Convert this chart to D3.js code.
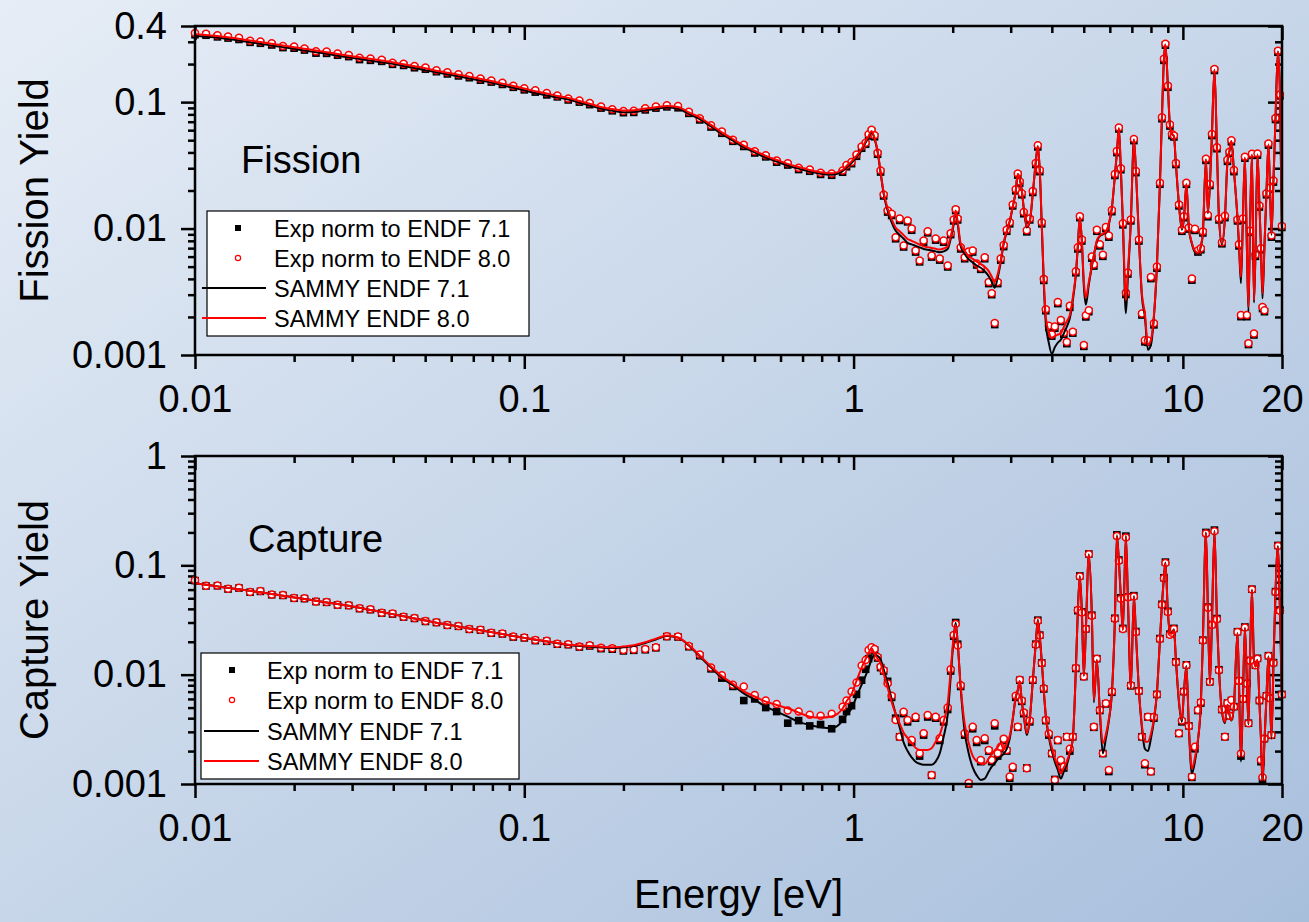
<!DOCTYPE html>
<html>
<head>
<meta charset="utf-8">
<script src="https://cdn.jsdelivr.net/npm/d3@7"></script>
<style>
  body { margin: 0; }
  svg text { font-family: "Liberation Sans", Arial, sans-serif; fill: #000; }
</style>
</head>
<body>
<div id="chart"></div>
<script>
// Neutron energies (eV) of the measured points, shared by both panels
var energy = [
  0.0100, 0.0108, 0.0117, 0.0126, 0.0136, 0.0147, 0.0158, 0.0171, 0.0185, 0.0200,
  0.0215, 0.0233, 0.0251, 0.0271, 0.0293, 0.0316, 0.0341, 0.0369, 0.0398, 0.0430,
  0.0464, 0.0501, 0.0541, 0.0584, 0.0631, 0.0681, 0.0736, 0.0794, 0.0858, 0.0926,
  0.100, 0.108, 0.117, 0.126, 0.136, 0.147, 0.158, 0.171, 0.185, 0.200,
  0.215, 0.233, 0.251, 0.271, 0.293, 0.316, 0.341, 0.369, 0.398, 0.430,
  0.464, 0.501, 0.541, 0.584, 0.631, 0.681, 0.736, 0.794, 0.858, 0.926,
  0.952, 0.986, 1.021, 1.058, 1.088, 1.111, 1.134, 1.158, 1.183, 1.208,
  1.234, 1.269, 1.305, 1.342, 1.380, 1.419, 1.459, 1.501, 1.543, 1.587,
  1.632, 1.679, 1.726, 1.775, 1.826, 1.877, 1.931, 1.972, 2.014, 2.042,
  2.071, 2.115, 2.175, 2.237, 2.300, 2.365, 2.433, 2.502, 2.573, 2.627,
  2.683, 2.740, 2.798, 2.857, 2.918, 2.980, 3.043, 3.108, 3.152, 3.196,
  3.241, 3.287, 3.357, 3.428, 3.501, 3.575, 3.626, 3.677, 3.728, 3.781,
  3.834, 3.916, 3.999, 4.084, 4.170, 4.259, 4.349, 4.442, 4.536, 4.632,
  4.731, 4.797, 4.865, 4.934, 5.003, 5.074, 5.180, 5.291, 5.366, 5.480,
  5.596, 5.715, 5.836, 5.960, 6.087, 6.216, 6.303, 6.392, 6.482, 6.574,
  6.713, 6.808, 6.952, 7.100, 7.200, 7.353, 7.509, 7.668, 7.831, 7.997,
  8.167, 8.340, 8.517, 8.637, 8.759, 8.851, 9.007, 9.134, 9.263, 9.394,
  9.526, 9.728, 9.930, 10.07, 10.25, 10.43, 10.65, 10.88, 11.11, 11.34,
  11.50, 11.75, 11.91, 12.08, 12.25, 12.47, 12.69, 12.87, 13.14, 13.42,
  13.66, 13.85, 14.04, 14.29, 14.65, 14.80, 15.01, 15.22, 15.43, 15.65,
  15.82, 15.98, 16.21, 16.44, 16.61, 16.85, 17.08, 17.26, 17.45, 17.69,
  17.94, 18.19, 18.39, 18.58, 18.84, 19.11, 19.44, 19.72, 19.98
];

// Fission yield
var fissionSammy80 = [
  0.345, 0.339, 0.334, 0.326, 0.317, 0.307, 0.299, 0.289, 0.280, 0.272,
  0.264, 0.256, 0.248, 0.240, 0.233, 0.226, 0.220, 0.213, 0.207, 0.199,
  0.192, 0.185, 0.177, 0.171, 0.165, 0.159, 0.153, 0.147, 0.140, 0.134,
  0.128, 0.122, 0.117, 0.112, 0.108, 0.102, 0.0970, 0.0916, 0.0882, 0.0857,
  0.0862, 0.0890, 0.0911, 0.0933, 0.0915, 0.0831, 0.0757, 0.0661, 0.0577, 0.0511,
  0.0453, 0.0412, 0.0376, 0.0349, 0.0325, 0.0307, 0.0291, 0.0279, 0.0274, 0.0292,
  0.0313, 0.0340, 0.0378, 0.0427, 0.0493, 0.0540, 0.0591, 0.0521, 0.0411, 0.0281,
  0.0194, 0.0144, 0.0118, 0.0102, 0.00952, 0.00887, 0.00827, 0.00800, 0.00774, 0.00748,
  0.00723, 0.00713, 0.00702, 0.00692, 0.00682, 0.00695, 0.00725, 0.00865, 0.0112, 0.0139,
  0.0113, 0.00758, 0.00667, 0.00603, 0.00575, 0.00548, 0.00522, 0.00498, 0.00461, 0.00417,
  0.00378, 0.00438, 0.00562, 0.00779, 0.00954, 0.0115, 0.0149, 0.0199, 0.0270, 0.0248,
  0.0203, 0.0146, 0.0104, 0.0114, 0.0190, 0.0338, 0.0450, 0.0286, 0.0109, 0.00397,
  0.00200, 0.00152, 0.00137, 0.00141, 0.00145, 0.00148, 0.00166, 0.00185, 0.00207, 0.00286,
  0.00442, 0.00735, 0.0123, 0.00804, 0.00383, 0.00283, 0.00378, 0.00508, 0.00617, 0.00804,
  0.00879, 0.00912, 0.00945, 0.0110, 0.0147, 0.0262, 0.0397, 0.0624, 0.0292, 0.0114,
  0.00271, 0.00462, 0.0117, 0.0508, 0.0293, 0.00854, 0.00306, 0.00213, 0.00120, 0.00131,
  0.00207, 0.00511, 0.0225, 0.0748, 0.218, 0.285, 0.132, 0.0659, 0.0565, 0.0540,
  0.0323, 0.0158, 0.0100, 0.0120, 0.0225, 0.0102, 0.00772, 0.00665, 0.00643, 0.00735,
  0.00930, 0.0354, 0.0134, 0.0222, 0.0545, 0.181, 0.0434, 0.0124, 0.00767, 0.0123,
  0.0343, 0.0411, 0.0493, 0.0289, 0.0122, 0.00772, 0.00414, 0.0123, 0.0364, 0.00696,
  0.00240, 0.00964, 0.0387, 0.00271, 0.00640, 0.0387, 0.0155, 0.00725, 0.00306, 0.00735,
  0.0194, 0.0464, 0.0207, 0.00908, 0.0243, 0.0735, 0.252, 0.114, 0.0106
];
var fissionSammy71 = [
  0.335, 0.329, 0.324, 0.316, 0.307, 0.298, 0.290, 0.280, 0.272, 0.264,
  0.256, 0.248, 0.241, 0.233, 0.226, 0.219, 0.213, 0.207, 0.201, 0.193,
  0.186, 0.179, 0.172, 0.166, 0.160, 0.154, 0.148, 0.143, 0.136, 0.130,
  0.124, 0.118, 0.113, 0.109, 0.105, 0.0990, 0.0941, 0.0889, 0.0856, 0.0831,
  0.0836, 0.0863, 0.0884, 0.0905, 0.0888, 0.0806, 0.0734, 0.0641, 0.0560, 0.0496,
  0.0439, 0.0400, 0.0365, 0.0339, 0.0315, 0.0298, 0.0282, 0.0271, 0.0266, 0.0284,
  0.0304, 0.0330, 0.0367, 0.0415, 0.0480, 0.0526, 0.0578, 0.0512, 0.0403, 0.0275,
  0.0188, 0.0138, 0.0112, 0.0096, 0.0089, 0.0083, 0.0077, 0.0075, 0.0073, 0.0071,
  0.0069, 0.0068, 0.0067, 0.0066, 0.0065, 0.0066, 0.0069, 0.0083, 0.0108, 0.0136,
  0.0109, 0.0072, 0.0063, 0.0057, 0.0054, 0.0051, 0.0049, 0.0046, 0.0042, 0.0038,
  0.0034, 0.0041, 0.0054, 0.0076, 0.0094, 0.0114, 0.0148, 0.0197, 0.0268, 0.0246,
  0.0201, 0.0144, 0.0102, 0.0113, 0.0188, 0.0335, 0.0447, 0.0283, 0.0106, 0.0037,
  0.0018, 0.00125, 0.00102, 0.00115, 0.00125, 0.00132, 0.00148, 0.00168, 0.00195, 0.0027,
  0.0043, 0.0072, 0.0122, 0.0079, 0.0035, 0.0025, 0.0036, 0.0050, 0.0061, 0.0079,
  0.0087, 0.0090, 0.0093, 0.0108, 0.0145, 0.0260, 0.0394, 0.0620, 0.0289, 0.0111,
  0.00214, 0.0041, 0.0115, 0.0505, 0.0290, 0.0084, 0.0029, 0.0020, 0.0011, 0.0012,
  0.0020, 0.0050, 0.0223, 0.0745, 0.217, 0.284, 0.131, 0.0655, 0.0561, 0.0536,
  0.0320, 0.0156, 0.0098, 0.0118, 0.0223, 0.0100, 0.0076, 0.0065, 0.0063, 0.0072,
  0.0092, 0.0351, 0.0132, 0.0220, 0.0541, 0.180, 0.0430, 0.0122, 0.0075, 0.0121,
  0.0340, 0.0408, 0.0490, 0.0286, 0.0120, 0.0075, 0.0037, 0.0121, 0.0361, 0.0068,
  0.0022, 0.0095, 0.0384, 0.0026, 0.0063, 0.0384, 0.0153, 0.0071, 0.0028, 0.0072,
  0.0192, 0.0461, 0.0205, 0.0089, 0.0241, 0.0730, 0.251, 0.113, 0.0104
];
var fissionExp80 = [
  0.352, 0.348, 0.338, 0.331, 0.323, 0.306, 0.301, 0.292, 0.278, 0.275,
  0.266, 0.252, 0.251, 0.242, 0.236, 0.224, 0.221, 0.216, 0.205, 0.201,
  0.193, 0.188, 0.179, 0.172, 0.166, 0.161, 0.154, 0.148, 0.142, 0.135,
  0.129, 0.124, 0.118, 0.113, 0.107, 0.103, 0.0985, 0.0925, 0.0880, 0.0850,
  0.0855, 0.0895, 0.0925, 0.0945, 0.0930, 0.0840, 0.0745, 0.0655, 0.0585, 0.0505,
  0.0460, 0.0408, 0.0380, 0.0345, 0.0328, 0.0302, 0.0293, 0.0276, 0.0272, 0.0288,
  0.0318, 0.0336, 0.0385, 0.0445, 0.0478, 0.0556, 0.0605, 0.0548, 0.0398, 0.0288,
  0.0186, 0.0139, 0.0131, 0.00854, 0.0120, 0.00735, 0.0116, 0.0100, 0.00671, 0.00560,
  0.00804, 0.00952, 0.00613, 0.00834, 0.00580, 0.00804, 0.00511, 0.00920, 0.0118, 0.0142,
  0.0120, 0.00710, 0.00594, 0.00660, 0.00671, 0.00530, 0.00490, 0.00594, 0.00378, 0.00308,
  0.00179, 0.00378, 0.00580, 0.00740, 0.00980, 0.0112, 0.0155, 0.0205, 0.0272, 0.0236,
  0.0190, 0.0135, 0.00970, 0.0120, 0.0198, 0.0330, 0.0455, 0.0290, 0.0112, 0.00400,
  0.00230, 0.00170, 0.00145, 0.00168, 0.00262, 0.00189, 0.00150, 0.00127, 0.00245, 0.00153,
  0.00460, 0.00710, 0.0125, 0.00820, 0.00120, 0.00206, 0.00226, 0.00600, 0.00520, 0.00980,
  0.00750, 0.00620, 0.0103, 0.00880, 0.0140, 0.0270, 0.0410, 0.0630, 0.0300, 0.0110,
  0.00310, 0.00450, 0.0118, 0.0510, 0.0285, 0.00820, 0.00213, 0.00131, 0.00130, 0.00414,
  0.00178, 0.00500, 0.0230, 0.0760, 0.220, 0.290, 0.135, 0.0665, 0.0560, 0.0545,
  0.0330, 0.0155, 0.00980, 0.0125, 0.0230, 0.0102, 0.00402, 0.00995, 0.00671, 0.00700,
  0.00950, 0.0356, 0.0128, 0.0225, 0.0560, 0.183, 0.0440, 0.0120, 0.00780, 0.0126,
  0.0350, 0.0405, 0.0500, 0.0290, 0.0118, 0.00750, 0.00207, 0.0120, 0.0370, 0.00207,
  0.00124, 0.00960, 0.0390, 0.00148, 0.00620, 0.0392, 0.0152, 0.00700, 0.00240, 0.00226,
  0.0190, 0.0470, 0.0210, 0.00880, 0.0240, 0.0750, 0.255, 0.115, 0.0105
];
var fissionExp71 = [
  0.341, 0.338, 0.328, 0.321, 0.313, 0.297, 0.292, 0.283, 0.270, 0.267,
  0.258, 0.244, 0.243, 0.235, 0.229, 0.217, 0.214, 0.210, 0.199, 0.195,
  0.187, 0.182, 0.174, 0.167, 0.161, 0.156, 0.149, 0.144, 0.138, 0.131,
  0.125, 0.120, 0.114, 0.110, 0.104, 0.100, 0.0955, 0.0897, 0.0854, 0.0825,
  0.0829, 0.0868, 0.0897, 0.0917, 0.0902, 0.0815, 0.0723, 0.0635, 0.0567, 0.0490,
  0.0446, 0.0396, 0.0369, 0.0335, 0.0318, 0.0293, 0.0284, 0.0268, 0.0264, 0.0279,
  0.0308, 0.0326, 0.0373, 0.0432, 0.0464, 0.0540, 0.0588, 0.0532, 0.0387, 0.0280,
  0.0181, 0.0135, 0.0127, 0.00830, 0.0116, 0.00715, 0.0113, 0.00970, 0.00652, 0.00545,
  0.00780, 0.00925, 0.00595, 0.00810, 0.00563, 0.00780, 0.00497, 0.00895, 0.0115, 0.0139,
  0.0117, 0.00690, 0.00577, 0.00641, 0.00652, 0.00515, 0.00476, 0.00577, 0.00367, 0.00300,
  0.00174, 0.00367, 0.00563, 0.00720, 0.00952, 0.0109, 0.0151, 0.0199, 0.0265, 0.0229,
  0.0185, 0.0131, 0.00942, 0.0117, 0.0193, 0.0321, 0.0442, 0.0282, 0.0109, 0.00389,
  0.00224, 0.00165, 0.00141, 0.00163, 0.00255, 0.00184, 0.00146, 0.00123, 0.00238, 0.00149,
  0.00447, 0.00690, 0.0122, 0.00797, 0.00117, 0.00200, 0.00220, 0.00583, 0.00505, 0.00952,
  0.00729, 0.00603, 0.0100, 0.00855, 0.0136, 0.0263, 0.0399, 0.0613, 0.0292, 0.0107,
  0.00301, 0.00437, 0.0115, 0.0496, 0.0277, 0.00797, 0.00207, 0.00127, 0.00126, 0.00402,
  0.00173, 0.00486, 0.0224, 0.0739, 0.214, 0.282, 0.131, 0.0647, 0.0544, 0.0530,
  0.0321, 0.0151, 0.00952, 0.0122, 0.0224, 0.00991, 0.00391, 0.00967, 0.00652, 0.00680,
  0.00923, 0.0346, 0.0124, 0.0219, 0.0544, 0.178, 0.0428, 0.0117, 0.00758, 0.0122,
  0.0340, 0.0394, 0.0486, 0.0282, 0.0115, 0.00729, 0.00201, 0.0117, 0.0360, 0.00201,
  0.00121, 0.00933, 0.0379, 0.00144, 0.00603, 0.0381, 0.0148, 0.00680, 0.00233, 0.00220,
  0.0185, 0.0457, 0.0204, 0.00855, 0.0233, 0.0729, 0.248, 0.112, 0.0102
];

// Capture yield
var captureSammy80 = [
  0.0685, 0.0663, 0.0642, 0.0622, 0.0603, 0.0584, 0.0567, 0.0547, 0.0527, 0.0509,
  0.0492, 0.0474, 0.0458, 0.0442, 0.0426, 0.0409, 0.0391, 0.0374, 0.0358, 0.0342,
  0.0327, 0.0313, 0.0299, 0.0288, 0.0276, 0.0265, 0.0255, 0.0245, 0.0235, 0.0226,
  0.0217, 0.0210, 0.0202, 0.0195, 0.0188, 0.0185, 0.0183, 0.0180, 0.0178, 0.0181,
  0.0186, 0.0198, 0.0213, 0.0228, 0.0219, 0.0187, 0.0150, 0.0119, 0.0097, 0.00826,
  0.00704, 0.00631, 0.00567, 0.00528, 0.00493, 0.00450, 0.00413, 0.00405, 0.00415, 0.00490,
  0.00571, 0.00666, 0.00881, 0.0116, 0.0139, 0.0159, 0.0174, 0.0154, 0.0140, 0.0127,
  0.0102, 0.00759, 0.00564, 0.00437, 0.00359, 0.00295, 0.00264, 0.00238, 0.00214, 0.00205,
  0.00205, 0.00205, 0.00212, 0.00244, 0.00281, 0.00374, 0.00546, 0.0110, 0.0223, 0.0285,
  0.0191, 0.00777, 0.00354, 0.00237, 0.00181, 0.00161, 0.00154, 0.00152, 0.00171, 0.00187,
  0.00203, 0.00218, 0.00236, 0.00207, 0.00236, 0.00276, 0.00396, 0.00629, 0.00724, 0.00876,
  0.00572, 0.00431, 0.00291, 0.00399, 0.00874, 0.0194, 0.0312, 0.0221, 0.0132, 0.00720,
  0.00431, 0.00281, 0.00217, 0.00172, 0.00147, 0.00125, 0.00142, 0.00161, 0.00195, 0.00263,
  0.0110, 0.0386, 0.0788, 0.0376, 0.00980, 0.0254, 0.1245, 0.0352, 0.00580, 0.0136,
  0.00461, 0.00236, 0.00284, 0.00396, 0.00683, 0.0317, 0.183, 0.108, 0.0504, 0.0256,
  0.183, 0.0499, 0.00777, 0.0517, 0.0239, 0.00729, 0.00344, 0.00245, 0.00244, 0.00286,
  0.00396, 0.00683, 0.0207, 0.0427, 0.0775, 0.1045, 0.0366, 0.0238, 0.0237, 0.0256,
  0.0136, 0.00577, 0.00390, 0.00680, 0.0118, 0.00334, 0.00138, 0.00174, 0.00254, 0.00547,
  0.0201, 0.197, 0.0402, 0.00834, 0.0291, 0.203, 0.0317, 0.0114, 0.00463, 0.00370,
  0.00531, 0.00435, 0.00383, 0.00527, 0.0239, 0.00859, 0.00178, 0.00625, 0.0266, 0.00855,
  0.00359, 0.0131, 0.0596, 0.0137, 0.0119, 0.0136, 0.00565, 0.00271, 0.00109, 0.00248,
  0.00629, 0.0146, 0.00629, 0.00271, 0.0125, 0.0562, 0.148, 0.0379, 0.0065
];
var captureSammy71 = [
  0.0685, 0.0663, 0.0642, 0.0622, 0.0603, 0.0584, 0.0567, 0.0547, 0.0527, 0.0509,
  0.0492, 0.0474, 0.0458, 0.0442, 0.0426, 0.0409, 0.0391, 0.0374, 0.0358, 0.0342,
  0.0327, 0.0313, 0.0299, 0.0288, 0.0276, 0.0265, 0.0255, 0.0245, 0.0235, 0.0226,
  0.0217, 0.0209, 0.0201, 0.0194, 0.0187, 0.0183, 0.0180, 0.0177, 0.0175, 0.0178,
  0.0183, 0.0195, 0.0210, 0.0226, 0.0218, 0.0185, 0.0147, 0.0116, 0.0094, 0.0080,
  0.00675, 0.0059, 0.0051, 0.0046, 0.00413, 0.0037, 0.00347, 0.0033, 0.00323, 0.0038,
  0.0043, 0.0049, 0.0063, 0.0081, 0.0098, 0.0115, 0.0138, 0.0151, 0.0148, 0.0138,
  0.0112, 0.0084, 0.0060, 0.0044, 0.0033, 0.0024, 0.0020, 0.00175, 0.0016, 0.00153,
  0.0015, 0.0015, 0.0015, 0.0016, 0.0019, 0.0027, 0.0043, 0.0095, 0.0215, 0.0299,
  0.0195, 0.0075, 0.0030, 0.0019, 0.00142, 0.00120, 0.00109, 0.00112, 0.00130, 0.00144,
  0.00155, 0.00168, 0.00178, 0.00190, 0.0021, 0.0026, 0.0039, 0.0062, 0.0072, 0.0087,
  0.0057, 0.0042, 0.0028, 0.0039, 0.0087, 0.0194, 0.0318, 0.0223, 0.0132, 0.0071,
  0.0042, 0.0027, 0.0020, 0.0016, 0.00135, 0.00112, 0.0013, 0.0015, 0.0019, 0.0026,
  0.0110, 0.0380, 0.0800, 0.0380, 0.0098, 0.0255, 0.126, 0.0355, 0.0056, 0.0136,
  0.0045, 0.0019, 0.0026, 0.0038, 0.0068, 0.0320, 0.188, 0.110, 0.0510, 0.0258,
  0.186, 0.0505, 0.0076, 0.0525, 0.0242, 0.0072, 0.0033, 0.0021, 0.0020, 0.0026,
  0.0038, 0.0068, 0.0208, 0.0430, 0.0780, 0.106, 0.0370, 0.0240, 0.0240, 0.0260,
  0.0136, 0.0056, 0.0037, 0.0068, 0.0120, 0.0032, 0.00125, 0.0016, 0.0025, 0.0054,
  0.0203, 0.200, 0.0405, 0.0083, 0.0293, 0.207, 0.0320, 0.0114, 0.0046, 0.0036,
  0.0053, 0.0043, 0.0038, 0.0052, 0.0240, 0.0085, 0.0016, 0.0062, 0.0268, 0.0085,
  0.0035, 0.0131, 0.0600, 0.0137, 0.0119, 0.0136, 0.0056, 0.0026, 0.0010, 0.0024,
  0.0062, 0.0147, 0.0062, 0.0026, 0.0126, 0.0565, 0.150, 0.0382, 0.0064
];
var captureExp80 = [
  0.0730, 0.0650, 0.0655, 0.0610, 0.0625, 0.0570, 0.0582, 0.0540, 0.0535, 0.0502,
  0.0500, 0.0468, 0.0462, 0.0436, 0.0432, 0.0404, 0.0396, 0.0368, 0.0362, 0.0339,
  0.0330, 0.0309, 0.0302, 0.0285, 0.0279, 0.0262, 0.0258, 0.0242, 0.0238, 0.0223,
  0.0219, 0.0207, 0.0204, 0.0192, 0.0190, 0.0181, 0.0186, 0.0176, 0.0174, 0.0168,
  0.0170, 0.0172, 0.0178, 0.0225, 0.0223, 0.0183, 0.0153, 0.0116, 0.0099, 0.00810,
  0.00780, 0.00650, 0.00580, 0.00540, 0.00470, 0.00460, 0.00430, 0.00420, 0.00440, 0.00510,
  0.0058, 0.0070, 0.0085, 0.0121, 0.0136, 0.0168, 0.0178, 0.0172, 0.0145, 0.0118,
  0.0110, 0.0083, 0.0064, 0.00385, 0.00271, 0.00459, 0.00385, 0.00253, 0.00413, 0.00191,
  0.00291, 0.00428, 0.00121, 0.00413, 0.00262, 0.00385, 0.0050, 0.0112, 0.0230, 0.0290,
  0.0185, 0.0080, 0.00291, 0.00102, 0.00334, 0.00253, 0.00166, 0.00262, 0.00205, 0.00166,
  0.00359, 0.00191, 0.00219, 0.00260, 0.00205, 0.00117, 0.00144, 0.0064, 0.00334, 0.0090,
  0.0058, 0.0045, 0.00139, 0.0038, 0.0090, 0.0188, 0.0310, 0.0228, 0.0128, 0.0075,
  0.00385, 0.0029, 0.00191, 0.00109, 0.00253, 0.00166, 0.00144, 0.00271, 0.0021, 0.0027,
  0.0115, 0.0390, 0.0790, 0.0370, 0.0096, 0.0262, 0.126, 0.0345, 0.00334, 0.0140,
  0.00475, 0.00191, 0.00547, 0.00134, 0.0070, 0.0325, 0.185, 0.110, 0.0495, 0.0262,
  0.180, 0.0510, 0.0080, 0.0520, 0.0245, 0.0071, 0.00271, 0.00155, 0.00413, 0.00130,
  0.0041, 0.0066, 0.0212, 0.0435, 0.0760, 0.105, 0.0375, 0.0232, 0.0242, 0.0262,
  0.0130, 0.00291, 0.0038, 0.0070, 0.0122, 0.0034, 0.00117, 0.00219, 0.00475, 0.0056,
  0.0205, 0.195, 0.0410, 0.0086, 0.0285, 0.205, 0.0322, 0.0110, 0.0048, 0.00271,
  0.0055, 0.0042, 0.00587, 0.0051, 0.0245, 0.0088, 0.0019, 0.0060, 0.0270, 0.0083,
  0.0036, 0.0134, 0.0600, 0.0133, 0.0122, 0.0140, 0.0058, 0.00166, 0.00115, 0.0026,
  0.0064, 0.0148, 0.0061, 0.0028, 0.0128, 0.0570, 0.150, 0.0385, 0.0066
];
var captureExp71 = [
  0.0725, 0.0648, 0.0650, 0.0607, 0.0620, 0.0568, 0.0578, 0.0538, 0.0531, 0.0500,
  0.0496, 0.0466, 0.0459, 0.0434, 0.0429, 0.0402, 0.0393, 0.0366, 0.0359, 0.0337,
  0.0327, 0.0307, 0.0300, 0.0283, 0.0277, 0.0260, 0.0256, 0.0240, 0.0236, 0.0221,
  0.0217, 0.0205, 0.0202, 0.0190, 0.0188, 0.0179, 0.0183, 0.0173, 0.0171, 0.0165,
  0.0167, 0.0169, 0.0176, 0.0223, 0.0221, 0.0180, 0.0149, 0.0113, 0.0093, 0.0078,
  0.0058, 0.0060, 0.0050, 0.0046, 0.0036, 0.0038, 0.0034, 0.0035, 0.0032, 0.0039,
  0.0046, 0.0052, 0.0066, 0.0089, 0.0112, 0.0140, 0.0165, 0.0168, 0.0142, 0.0116,
  0.0108, 0.0087, 0.0062, 0.0040, 0.0027, 0.0044, 0.0037, 0.0024, 0.0040, 0.0018,
  0.0028, 0.0041, 0.0012, 0.0040, 0.0025, 0.0037, 0.0048, 0.0108, 0.0225, 0.0300,
  0.0190, 0.0078, 0.0028, 0.0010, 0.0032, 0.0024, 0.0016, 0.0025, 0.0020, 0.0016,
  0.0034, 0.0018, 0.0021, 0.0025, 0.0020, 0.00113, 0.0014, 0.0062, 0.0033, 0.0089,
  0.0057, 0.0044, 0.0014, 0.0037, 0.0089, 0.0190, 0.0315, 0.0230, 0.0128, 0.0074,
  0.0038, 0.0028, 0.0019, 0.0011, 0.0025, 0.0016, 0.0014, 0.0027, 0.0020, 0.0027,
  0.0114, 0.0385, 0.0800, 0.0375, 0.0096, 0.0262, 0.127, 0.0350, 0.0033, 0.0140,
  0.0047, 0.0019, 0.0054, 0.0013, 0.0069, 0.0328, 0.190, 0.112, 0.0505, 0.0265,
  0.185, 0.0515, 0.0079, 0.0528, 0.0248, 0.0071, 0.0027, 0.0015, 0.0041, 0.0013,
  0.0040, 0.0066, 0.0214, 0.0440, 0.0770, 0.107, 0.0380, 0.0235, 0.0245, 0.0265,
  0.0131, 0.0029, 0.0037, 0.0070, 0.0123, 0.0034, 0.00115, 0.0021, 0.0047, 0.0055,
  0.0207, 0.200, 0.0415, 0.0086, 0.0288, 0.210, 0.0326, 0.0111, 0.0048, 0.0027,
  0.0055, 0.0042, 0.0058, 0.0051, 0.0247, 0.0088, 0.0018, 0.0060, 0.0273, 0.0083,
  0.0036, 0.0135, 0.0605, 0.0134, 0.0122, 0.0141, 0.0058, 0.0016, 0.0011, 0.0026,
  0.0064, 0.0149, 0.0061, 0.0028, 0.0129, 0.0575, 0.152, 0.0390, 0.0066
];

// Axis ticks and legend entries
var xTickValues = [0.01, 0.1, 1, 10, 20];
var xTickLabels = ["0.01", "0.1", "1", "10", "20"];
var fissionTickValues = [0.001, 0.01, 0.1, 0.4];
var fissionTickLabels = ["0.001", "0.01", "0.1", "0.4"];
var captureTickValues = [0.001, 0.01, 0.1, 1];
var captureTickLabels = ["0.001", "0.01", "0.1", "1"];
var legendLabels = ["Exp norm to ENDF 7.1", "Exp norm to ENDF 8.0", "SAMMY ENDF 7.1", "SAMMY ENDF 8.0"];

var svgWidth = 1309;
var svgHeight = 922;
var plotLeft = 195;
var plotRight = 1282;

var svg = d3.select("#chart")
  .append("svg")
  .attr("width", svgWidth)
  .attr("height", svgHeight);

// Background gradient
var defs = svg.append("defs");
var grad = defs.append("linearGradient")
  .attr("id", "bg")
  .attr("x1", "0").attr("y1", "0")
  .attr("x2", "1").attr("y2", "1");
grad.append("stop").attr("offset", "0%").attr("stop-color", "#e6edf6");
grad.append("stop").attr("offset", "100%").attr("stop-color", "#a8bfdc");
svg.append("rect")
  .attr("width", svgWidth)
  .attr("height", svgHeight)
  .attr("fill", "url(#bg)");

var xScale = d3.scaleLog()
  .domain([0.01, 20])
  .range([plotLeft, plotRight]);

function isIn(v, list) {
  return list.some(function(m) { return Math.abs(m - v) / m < 1e-6; });
}

function styleAxis(g, fontSize) {
  g.select(".domain").remove();
  g.selectAll("line").attr("stroke", "#000").attr("stroke-width", 2.5);
  g.selectAll("text")
    .style("font-size", fontSize + "px")
    .style("font-family", "'Liberation Sans', Arial, sans-serif")
    .attr("fill", "#000");
}

function drawPanel(p) {
  var yScale = d3.scaleLog()
    .domain(p.yDomain)
    .range([p.bottom, p.top]);

  var g = svg.append("g");

  var xMinor = xScale.ticks().filter(function(v) { return !isIn(v, xTickValues); });
  var yMinor = yScale.ticks().filter(function(v) { return !isIn(v, p.yTicks); });

  // bottom axis (ticks outward, labelled)
  g.append("g")
    .attr("transform", `translate(0, ${p.bottom})`)
    .call(d3.axisBottom(xScale).tickValues(xTickValues).tickSize(14).tickPadding(16)
      .tickFormat(function(d, i) { return xTickLabels[i]; }))
    .call(styleAxis, 38);
  g.append("g")
    .attr("transform", `translate(0, ${p.bottom})`)
    .call(d3.axisBottom(xScale).tickValues(xMinor).tickSize(7).tickFormat(""))
    .call(styleAxis, 38);

  // top axis (ticks inward)
  g.append("g")
    .attr("transform", `translate(0, ${p.top})`)
    .call(d3.axisBottom(xScale).tickValues(xTickValues).tickSize(14).tickFormat(""))
    .call(styleAxis, 38);
  g.append("g")
    .attr("transform", `translate(0, ${p.top})`)
    .call(d3.axisBottom(xScale).tickValues(xMinor).tickSize(7).tickFormat(""))
    .call(styleAxis, 38);

  // left axis (ticks outward, labelled)
  g.append("g")
    .attr("transform", `translate(${plotLeft}, 0)`)
    .call(d3.axisLeft(yScale).tickValues(p.yTicks).tickSize(14).tickPadding(14)
      .tickFormat(function(d, i) { return p.yLabels[i]; }))
    .call(styleAxis, 38);
  g.append("g")
    .attr("transform", `translate(${plotLeft}, 0)`)
    .call(d3.axisLeft(yScale).tickValues(yMinor).tickSize(7).tickFormat(""))
    .call(styleAxis, 38);

  // right axis (ticks inward)
  g.append("g")
    .attr("transform", `translate(${plotRight}, 0)`)
    .call(d3.axisLeft(yScale).tickValues(p.yTicks).tickSize(14).tickFormat(""))
    .call(styleAxis, 38);
  g.append("g")
    .attr("transform", `translate(${plotRight}, 0)`)
    .call(d3.axisLeft(yScale).tickValues(yMinor).tickSize(7).tickFormat(""))
    .call(styleAxis, 38);

  // data
  var pts = energy.map(function(e, i) {
    return { e: e, s80: p.sammy80[i], s71: p.sammy71[i], x80: p.exp80[i], x71: p.exp71[i] };
  }).filter(function(d) { return d.x80 != null && d.x71 != null; });

  g.append("g").selectAll("rect")
    .data(pts)
    .enter()
    .append("rect")
    .attr("x", d => xScale(d.e) - 3.8)
    .attr("y", d => yScale(d.x71) - 3.8)
    .attr("width", 7.6)
    .attr("height", 7.6)
    .attr("fill", "#000");

  g.append("g").selectAll("circle")
    .data(pts)
    .enter()
    .append("circle")
    .attr("cx", d => xScale(d.e))
    .attr("cy", d => yScale(d.x80))
    .attr("r", 3.5)
    .attr("fill", "#fff")
    .attr("stroke", "#ff0000")
    .attr("stroke-width", 1.5);

  var line71 = d3.line()
    .defined(d => d.s71 != null)
    .x(d => xScale(d.e))
    .y(d => yScale(d.s71))
    .curve(d3.curveMonotoneX);
  var line80 = d3.line()
    .defined(d => d.s80 != null)
    .x(d => xScale(d.e))
    .y(d => yScale(d.s80))
    .curve(d3.curveMonotoneX);

  g.append("path")
    .datum(pts)
    .attr("d", line71)
    .attr("fill", "none")
    .attr("stroke", "#000")
    .attr("stroke-width", 2);
  g.append("path")
    .datum(pts)
    .attr("d", line80)
    .attr("fill", "none")
    .attr("stroke", "#ff0000")
    .attr("stroke-width", 2);

  // frame
  g.append("rect")
    .attr("x", plotLeft)
    .attr("y", p.top)
    .attr("width", plotRight - plotLeft)
    .attr("height", p.bottom - p.top)
    .attr("fill", "none")
    .attr("stroke", "#000")
    .attr("stroke-width", 2.5);

  // panel label
  g.append("text")
    .attr("x", p.labelX)
    .attr("y", p.labelY)
    .style("font-size", "38px")
    .text(p.label);

  // y axis title
  g.append("text")
    .attr("transform", `translate(48, ${(p.top + p.bottom) / 2}) rotate(-90)`)
    .attr("text-anchor", "middle")
    .style("font-size", "40px")
    .text(p.yTitle);

  // legend
  var L = p.legend;
  var lg = g.append("g");
  lg.append("rect")
    .attr("x", L.x)
    .attr("y", L.y)
    .attr("width", L.w)
    .attr("height", L.h)
    .attr("fill", "#fff")
    .attr("stroke", "#000")
    .attr("stroke-width", 1.2);
  lg.append("rect")
    .attr("x", L.symX - 3)
    .attr("y", L.rows[0] - 3)
    .attr("width", 6)
    .attr("height", 6)
    .attr("fill", "#000");
  lg.append("circle")
    .attr("cx", L.symX)
    .attr("cy", L.rows[1])
    .attr("r", 2.6)
    .attr("fill", "#fff")
    .attr("stroke", "#ff0000")
    .attr("stroke-width", 1.2);
  lg.append("line")
    .attr("x1", L.lineX1).attr("x2", L.lineX2)
    .attr("y1", L.rows[2]).attr("y2", L.rows[2])
    .attr("stroke", "#000").attr("stroke-width", 2);
  lg.append("line")
    .attr("x1", L.lineX1).attr("x2", L.lineX2)
    .attr("y1", L.rows[3]).attr("y2", L.rows[3])
    .attr("stroke", "#ff0000").attr("stroke-width", 2);
  lg.selectAll("text.leg")
    .data(legendLabels)
    .enter()
    .append("text")
    .attr("class", "leg")
    .attr("x", L.textX)
    .attr("y", (d, i) => L.rows[i] + 8.5)
    .style("font-size", "23.5px")
    .text(d => d);
}

drawPanel({
  top: 26, bottom: 355,
  yDomain: [0.001, 0.4],
  yTicks: fissionTickValues, yLabels: fissionTickLabels,
  sammy80: fissionSammy80, sammy71: fissionSammy71,
  exp80: fissionExp80, exp71: fissionExp71,
  label: "Fission", labelX: 241, labelY: 173,
  yTitle: "Fission Yield",
  legend: { x: 207, y: 211, w: 322, h: 125, rows: [228, 258, 288, 318],
            symX: 238, lineX1: 202, lineX2: 266, textX: 274 }
});

drawPanel({
  top: 456, bottom: 784,
  yDomain: [0.001, 1],
  yTicks: captureTickValues, yLabels: captureTickLabels,
  sammy80: captureSammy80, sammy71: captureSammy71,
  exp80: captureExp80, exp71: captureExp71,
  label: "Capture", labelX: 248, labelY: 552,
  yTitle: "Capture Yield",
  legend: { x: 201, y: 653, w: 318, h: 126, rows: [670, 700, 731, 761],
            symX: 232, lineX1: 204, lineX2: 259, textX: 267 }
});

// x axis title
svg.append("text")
  .attr("x", (plotLeft + plotRight) / 2)
  .attr("y", 908)
  .attr("text-anchor", "middle")
  .style("font-size", "40px")
  .text("Energy [eV]");
</script>
</body>
</html>
